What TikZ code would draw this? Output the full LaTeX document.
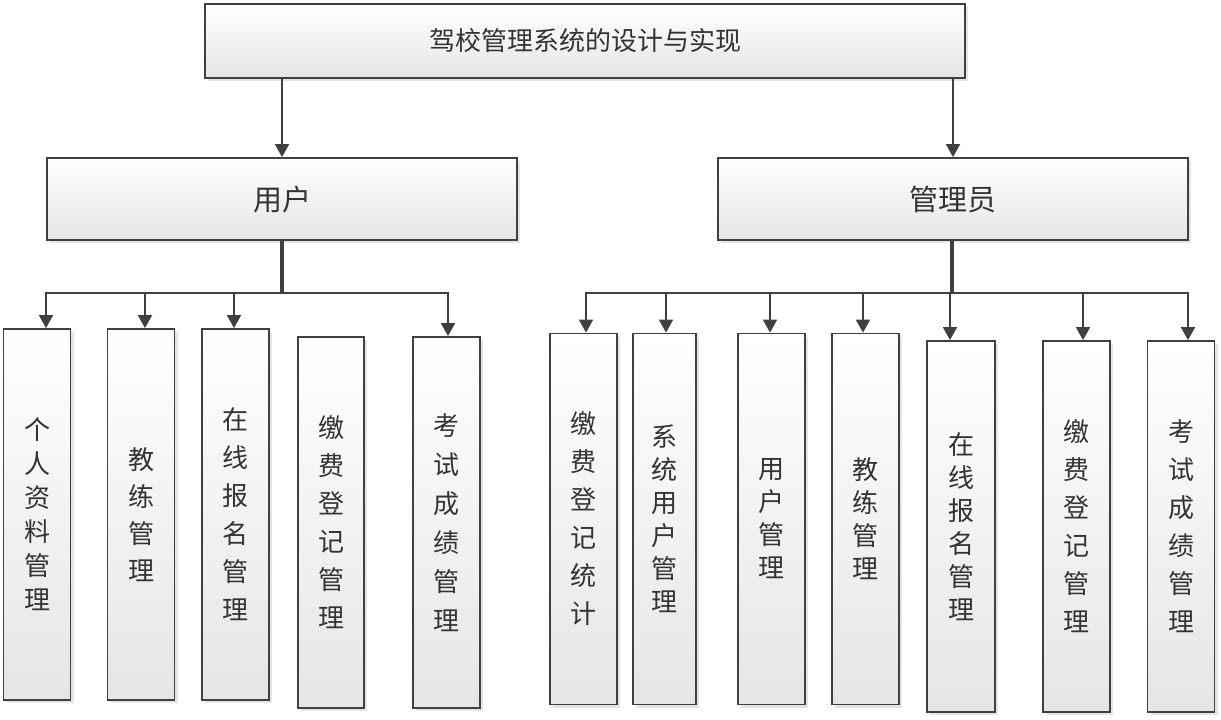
\documentclass[tikz,border=0pt]{standalone}
\usepackage{fontspec}
\newfontfamily\cjk{Noto Sans CJK SC}
\usetikzlibrary{arrows.meta,shadows,calc}
\definecolor{edge}{HTML}{404040}
\begin{document}
\begin{tikzpicture}[x=1pt,y=-1pt,
  box/.style={draw=edge, line width=1.8pt, top color=white, bottom color=black!10,
    drop shadow={shadow xshift=3pt,shadow yshift=-3pt,fill=black!20,opacity=0.5},
    inner sep=0pt, text=black!80},
  head/.style={box, font=\cjk\fontsize{29}{34}\selectfont},
  leaf/.style={box, minimum width=67pt, minimum height=371pt, align=center,
    font=\cjk\fontsize{26}{#1}\selectfont},
  leaf/.default=34,
  arr/.style={draw=edge, line width=1.8pt, -{Triangle[width=14pt,length=13pt]}},
  trunk/.style={draw=edge, line width=3.2pt}]
\useasboundingbox (0,0) rectangle (1221,720);

\node[head, minimum width=760pt, minimum height=74pt, font=\cjk\fontsize{26}{30}\selectfont] (top) at (585,41) {驾校管理系统的设计与实现};
\node[head, minimum width=470pt, minimum height=82pt] (user) at (282,199) {用户};
\node[head, minimum width=470pt, minimum height=82pt] (admin) at (953,199) {管理员};

\draw[arr] (top.south -| user.north) -- (user.north);
\draw[arr] (top.south -| admin.north) -- (admin.north);

% user leaves
\node[leaf=34] (u1) at (37,514.5) {个\\人\\资\\料\\管\\理};
\node[leaf=37] (u2) at (141,514.5) {教\\练\\管\\理};
\node[leaf=38] (u3) at (235.5,514.5) {在\\线\\报\\名\\管\\理};
\node[leaf=38, minimum width=66pt] (u4) at (331,522.5) {缴\\费\\登\\记\\管\\理};
\node[leaf=39] (u5) at (446.5,522.5) {考\\试\\成\\绩\\管\\理};

% admin leaves
\node[leaf=38] (a1) at (583.5,519) {缴\\费\\登\\记\\统\\计};
\node[leaf=33, minimum width=63pt] (a2) at (664.5,519) {系\\统\\用\\户\\管\\理};
\node[leaf=33] (a3) at (771.5,519) {用\\户\\管\\理};
\node[leaf=33] (a4) at (865.5,519) {教\\练\\管\\理};
\node[leaf=33, minimum width=68pt] (a5) at (961,526.5) {在\\线\\报\\名\\管\\理};
\node[leaf=38] (a6) at (1076.5,526.5) {缴\\费\\登\\记\\管\\理};
\node[leaf=38] (a7) at (1181,526.5) {考\\试\\成\\绩\\管\\理};

\coordinate (ub) at ($(user.south)+(0,52)$);
\coordinate (ab) at ($(admin.south)+(-1,52)$);

\draw[arr] (ub) -| ([xshift=9pt]u1.north);
\draw[arr] (ub) -| ([xshift=4pt]u2.north);
\draw[arr] (ub) -| ([xshift=-1.5pt]u3.north);
\draw[arr] (ub) -| ([xshift=1.5pt]u5.north);
\draw[trunk] (user.south) -- (ub);

\draw[arr] (ab) -| ([xshift=2.5pt]a1.north);
\draw[arr] (ab) -| ([xshift=1.5pt]a2.north);
\draw[arr] (ab) -| ([xshift=-1.5pt]a3.north);
\draw[arr] (ab) -| ([xshift=-2.5pt]a4.north);
\draw[arr] (ab) -| ([xshift=-11pt]a5.north);
\draw[arr] (ab) -| ([xshift=6.5pt]a6.north);
\draw[arr] (ab) -| ([xshift=7pt]a7.north);
\draw[trunk] ([xshift=-1pt]admin.south) -- (ab);
\end{tikzpicture}
\end{document}
